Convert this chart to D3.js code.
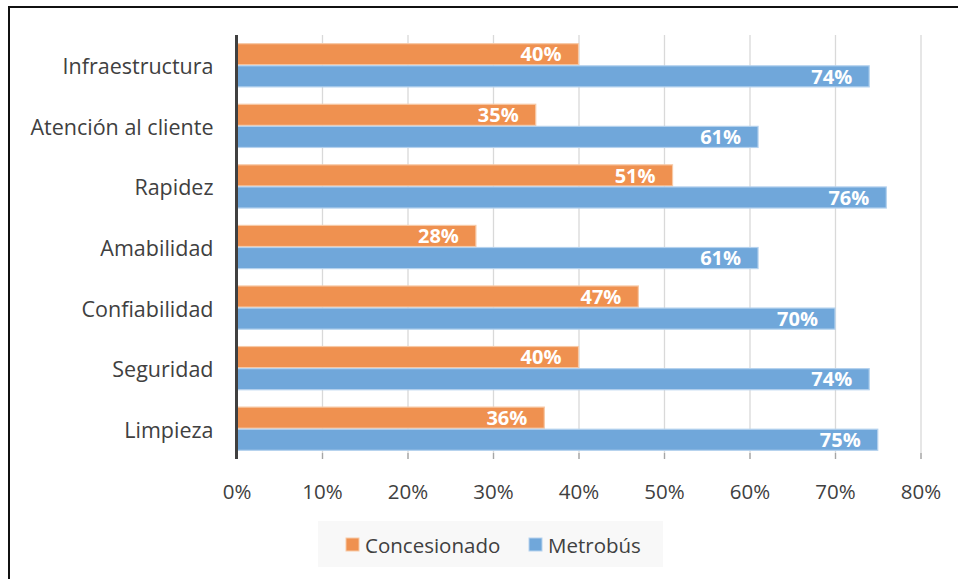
<!DOCTYPE html>
<html><head><meta charset="utf-8">
<script src="https://cdn.jsdelivr.net/npm/d3@7"></script>
<style>
html,body{margin:0;padding:0;background:#fff;}
svg{display:block;font-family:"Open Sans","Noto Sans",sans-serif;}
</style></head>
<body>
<svg id="chart" width="958" height="579"></svg>
<script>
const categories = ["Infraestructura","Atención al cliente","Rapidez","Amabilidad","Confiabilidad","Seguridad","Limpieza"];
const seriesNames = ["Concesionado","Metrobús"];
const concesionado = [40,35,51,28,47,40,36];
const metrobus = [74,61,76,61,70,74,75];
const tickValues = [0,10,20,30,40,50,60,70,80];
const fills = ["#EF9150","#70A7DA"];
const strokes = ["#F7C9A6","#B5D2EE"];

const svg = d3.select("#chart");
// outer frame (top and left edges visible)
svg.append("line").attr("x1",9).attr("x2",958).attr("y1",7).attr("y2",7).attr("stroke","#111").attr("stroke-width",2);
svg.append("line").attr("x1",9).attr("x2",9).attr("y1",6).attr("y2",579).attr("stroke","#111").attr("stroke-width",2);

const x0 = 236.5, x1 = 920.5, yTop = 35, yBot = 459;
const x = d3.scaleLinear().domain([0,80]).range([x0,x1]);
const y = d3.scaleBand().domain(categories).range([yTop,yBot]).paddingInner(0.27).paddingOuter(0.135);
const ySub = d3.scaleBand().domain(seriesNames).range([0,y.bandwidth()]);

// gridlines
svg.append("g").selectAll("line").data(tickValues.slice(1)).join("line")
  .attr("x1",d=>x(d)+0.5).attr("x2",d=>x(d)+0.5).attr("y1",yTop).attr("y2",yBot)
  .attr("stroke","#D9D9D9").attr("stroke-width",1.3);

// x axis tick labels
const xAxis = d3.axisBottom(x).tickValues(tickValues).tickFormat(d=>d+"%").tickSize(0).tickPadding(0);
const gx = svg.append("g").attr("transform",`translate(0,${yBot})`).call(xAxis);
gx.select(".domain").remove();
gx.selectAll("text").attr("y",40).attr("dy","0").attr("font-size","20.5px").attr("fill","#404040")
  .attr("font-family","'Open Sans','Noto Sans',sans-serif");
// small tick marks at bottom
svg.append("g").selectAll("line").data(tickValues.slice(1)).join("line")
  .attr("x1",d=>x(d)+0.5).attr("x2",d=>x(d)+0.5).attr("y1",yBot-6).attr("y2",yBot)
  .attr("stroke","#A6A6A6").attr("stroke-width",1.3);

// y axis labels
const yAxis = d3.axisLeft(y).tickSize(0).tickPadding(23);
const gy = svg.append("g").attr("transform",`translate(${x0},0)`).call(yAxis);
gy.select(".domain").remove();
gy.selectAll("text").attr("font-size","21.5px").attr("fill","#404040").attr("dy","0.42em")
  .attr("font-family","'Open Sans','Noto Sans',sans-serif");

// bars
const data = categories.map((c,i)=>({cat:c, vals:[concesionado[i],metrobus[i]]}));
const groups = svg.append("g").selectAll("g").data(data).join("g")
  .attr("transform",d=>`translate(0,${y(d.cat)})`);
groups.selectAll("rect").data(d=>d.vals.map((v,j)=>({v,j}))).join("rect")
  .attr("x",x(0)).attr("y",d=>ySub(seriesNames[d.j])+0.5)
  .attr("width",d=>x(d.v)-x(0)).attr("height",ySub.bandwidth()-1)
  .attr("fill",d=>fills[d.j]).attr("stroke",d=>strokes[d.j]).attr("stroke-width",1.2);
groups.selectAll("text").data(d=>d.vals.map((v,j)=>({v,j}))).join("text")
  .attr("x",d=>x(d.v)-17).attr("y",d=>ySub(seriesNames[d.j])+ySub.bandwidth()/2)
  .attr("dy","0.36em").attr("text-anchor","end")
  .attr("font-size","20px").attr("font-weight","bold").attr("fill","#fff")
  .text(d=>d.v+"%");

// y axis line
svg.append("line").attr("x1",x0).attr("x2",x0).attr("y1",yTop).attr("y2",yBot)
  .attr("stroke","#404040").attr("stroke-width",3);

// legend
const lg = svg.append("g");
lg.append("rect").attr("x",318).attr("y",521).attr("width",345).attr("height",46).attr("fill","#F8F8F8");
const legItems = [{n:seriesNames[0],x:346,c:fills[0],s:strokes[0]},{n:seriesNames[1],x:529,c:fills[1],s:strokes[1]}];
const li = lg.selectAll("g").data(legItems).join("g");
li.append("rect").attr("x",d=>d.x).attr("y",538).attr("width",13).attr("height",13)
  .attr("fill",d=>d.c).attr("stroke",d=>d.s).attr("stroke-width",1);
li.append("text").attr("x",d=>d.x+19).attr("y",545).attr("dy","0.38em")
  .attr("font-size","20.5px").attr("fill","#404040").text(d=>d.n);
</script>
</body></html>
